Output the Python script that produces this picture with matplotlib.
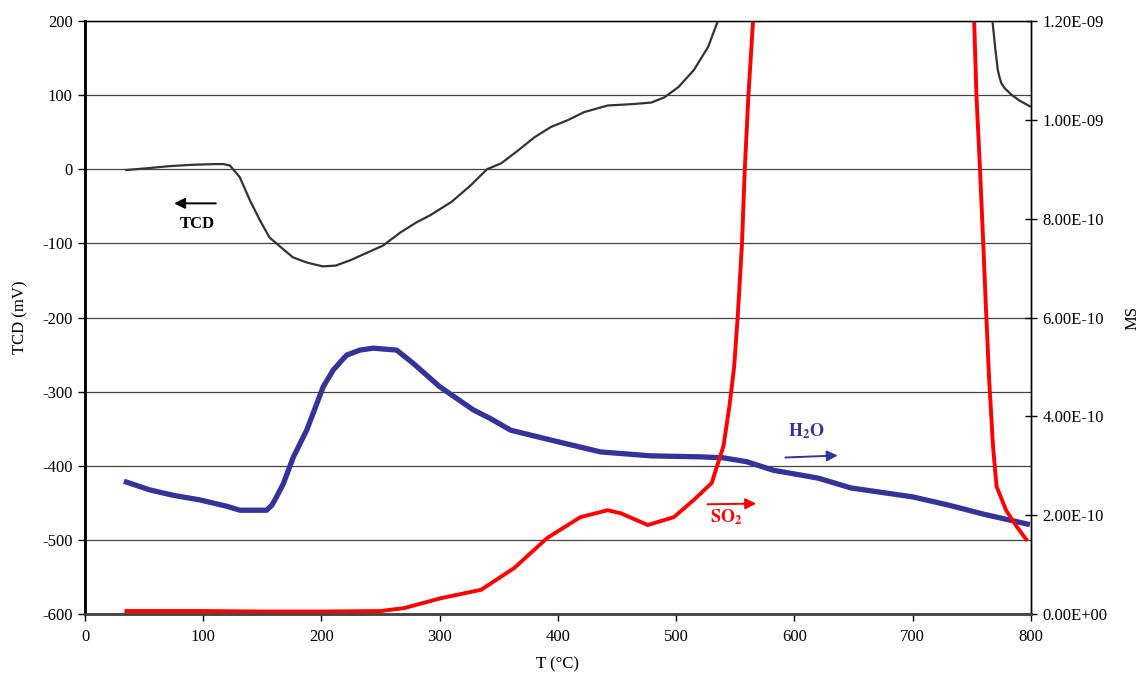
import matplotlib
matplotlib.use("Agg")
import matplotlib.pyplot as plt
from matplotlib.ticker import FuncFormatter, MultipleLocator

plt.rcParams["font.family"] = ["Liberation Serif", "DejaVu Serif"]
plt.rcParams["mathtext.fontset"] = "stix"
plt.rcParams["axes.unicode_minus"] = False

# TCD signal (mV), left axis
tcd_t = [35, 50, 70, 90, 110, 117, 122.6, 131, 139.5, 148, 156, 167, 176, 188,
         201, 212, 224, 238, 252, 267, 280, 292, 310, 326, 340, 352, 366, 380,
         394, 408, 422, 442, 464, 479, 490, 502, 515, 527, 535, 540,
         765, 767.5, 770, 772, 773.5, 775, 778, 784, 790, 799]
tcd_mv = [-1, 1, 4, 6, 7, 7, 5, -11, -42, -69, -92, -107, -119, -126,
          -131, -130, -123, -113, -103, -85, -72, -62, -44, -22, 0, 8, 25, 43,
          57, 66, 77, 86, 88, 90, 97, 111, 134, 165, 199, 230,
          230, 200, 161, 134, 124, 116, 109, 100, 93, 85]

# MS H2O signal, right axis
h2o_t = [35, 55, 75, 97, 120, 131, 153.6, 158, 162, 167.8, 176.3, 187.5, 201.5,
         210, 221.3, 232.5, 243.8, 263.6, 277.7, 300, 328.4, 342.5, 360, 394,
         436, 479, 521, 540, 560, 582, 620, 648, 700, 731, 760, 797]
h2o_ms = [2.67, 2.51, 2.40, 2.31, 2.18, 2.10, 2.10, 2.20, 2.37, 2.64, 3.18, 3.72,
          4.60, 4.94, 5.24, 5.34, 5.38, 5.34, 5.07, 4.60, 4.13, 3.96, 3.72, 3.52,
          3.28, 3.20, 3.18, 3.16, 3.08, 2.91, 2.75, 2.55, 2.37, 2.20, 2.02, 1.82]

# MS SO2 signal, right axis
so2_t = [35, 100, 150, 200, 250, 270, 301, 335, 363, 391, 419, 442, 453, 476,
         498, 515, 530, 540, 545, 549, 552, 555.6, 558, 561, 565, 568,
         750, 752, 754, 757, 759.7, 761.7, 764.7, 768, 771, 779, 788, 796]
so2_ms = [0.06, 0.06, 0.05, 0.05, 0.06, 0.12, 0.32, 0.49, 0.93, 1.54, 1.96, 2.10,
          2.04, 1.80, 1.96, 2.31, 2.65, 3.4, 4.2, 5.0, 6.0, 7.47, 8.98, 10.46,
          12.0, 13.5,
          13.5, 12.0, 10.47, 8.98, 7.5, 6.35, 4.74, 3.38, 2.58, 2.10, 1.77, 1.51]
h2o_ms = [v * 1e-10 for v in h2o_ms]
so2_ms = [v * 1e-10 for v in so2_ms]

fig = plt.figure(figsize=(11.41, 6.82), dpi=100)
ax = fig.add_axes([0.0745, 0.0997, 0.829, 0.8695])
ax2 = ax.twinx()

ax.set_xlim(0, 800)
ax.set_ylim(-600, 200)
ax2.set_ylim(0, 1.2e-9)

ax.yaxis.set_major_locator(MultipleLocator(100))
ax.xaxis.set_major_locator(MultipleLocator(100))
ax2.yaxis.set_major_locator(MultipleLocator(2e-10))
ax2.yaxis.set_major_formatter(FuncFormatter(lambda v, p: f"{v:.2E}"))
for axis in (ax.xaxis, ax.yaxis, ax2.xaxis, ax2.yaxis):
    axis.get_offset_text().set_visible(False)

ax.grid(axis="y", color="#444444", lw=0.9)
ax.set_axisbelow(True)

# MS traces on right axis, TCD on top
ax2.plot(h2o_t, h2o_ms, color="#333399", lw=3.8, solid_joinstyle="round")
ax2.plot(so2_t, so2_ms, color="#ff0000", lw=2.8, solid_joinstyle="round")
ax2.plot(tcd_t, [(v + 600) / 800 * 1.2e-9 for v in tcd_mv],
         color="#333333", lw=1.6)

for a in (ax, ax2):
    a.spines["top"].set_linewidth(0.9)
    a.spines["right"].set_linewidth(1.0)
    a.spines["left"].set_linewidth(1.8)
    a.spines["bottom"].set_linewidth(1.8)
    a.spines["bottom"].set_color("#444444")

ax.tick_params(axis="y", direction="out", length=5, width=1, labelsize=12,
               pad=4)
ax.tick_params(axis="x", direction="out", length=5, width=1, labelsize=12,
               pad=6)
ax2.tick_params(axis="y", direction="inout", length=9, width=1, labelsize=12,
                pad=4)

ax.set_ylabel("TCD (mV)", fontsize=12, labelpad=10)
ax.set_xlabel("T (°C)", fontsize=12, labelpad=8)
ax2.set_ylabel("MS", fontsize=12, labelpad=12)

# labels with arrows pointing to their axis
ax.annotate("", xy=(73, -46), xytext=(113, -46),
            arrowprops=dict(arrowstyle="-|>", color="black", lw=1.4,
                            mutation_scale=16))
ax.text(95, -74, "TCD", fontsize=12, fontweight="bold", ha="center",
        va="center", color="black")
ax.annotate("", xy=(639, -386), xytext=(590, -389),
            arrowprops=dict(arrowstyle="-|>", color="#333399", lw=1.4,
                            mutation_scale=16))
ax.text(610, -353, r"$\mathbf{H_2O}$", fontsize=13, ha="center",
        va="center", color="#333399")
ax.annotate("", xy=(570, -451), xytext=(524, -452),
            arrowprops=dict(arrowstyle="-|>", color="#ff0000", lw=1.4,
                            mutation_scale=16))
ax.text(542, -470, r"$\mathbf{SO_2}$", fontsize=13, ha="center",
        va="center", color="#ff0000")

fig.savefig("out.png", dpi=100)
